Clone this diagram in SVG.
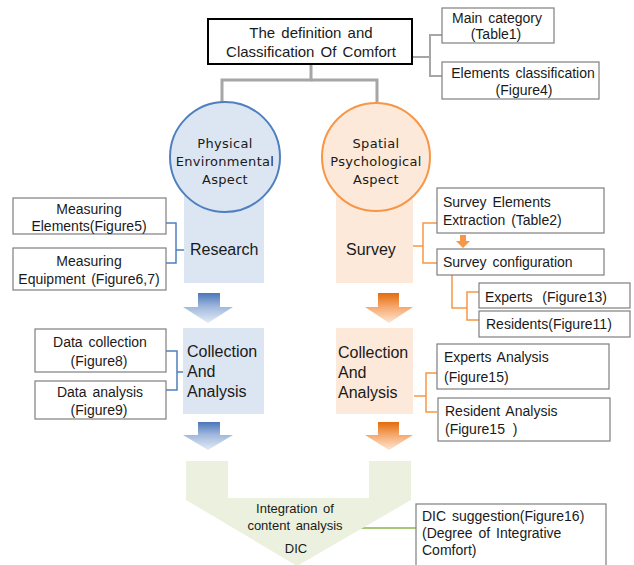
<svg xmlns="http://www.w3.org/2000/svg" width="634" height="565" viewBox="0 0 634 565">
<defs>
<style>
.box{fill:#fff;stroke:#7f7f7f;stroke-width:1.2}
.t{font-family:"Liberation Sans",Arial,sans-serif;font-size:14px;fill:#1a1a1a;word-spacing:2px}
.big{font-family:"Liberation Sans",Arial,sans-serif;font-size:16px;fill:#1a1a1a}
.circ{font-family:"DejaVu Sans",sans-serif;font-size:13px;fill:#1a1a1a;letter-spacing:0.3px}
.c{text-anchor:middle}
.gray{fill:none;stroke:#a6a6a6;stroke-width:3}
.gray2{fill:none;stroke:#a6a6a6;stroke-width:2}
.bl{fill:none;stroke:#4f7fbf;stroke-width:1.5}
.or{fill:none;stroke:#f79646;stroke-width:1.5}
</style>
<linearGradient id="gb" x1="0" y1="0" x2="0" y2="1">
<stop offset="0" stop-color="#4a76b8"/><stop offset="0.45" stop-color="#9fb7dc"/><stop offset="1" stop-color="#e3ebf6"/>
</linearGradient>
<linearGradient id="go" x1="0" y1="0" x2="0" y2="1">
<stop offset="0" stop-color="#e36c0a"/><stop offset="0.45" stop-color="#f5a66a"/><stop offset="1" stop-color="#fde6d4"/>
</linearGradient>
</defs>

<g id="connectors">
<polyline class="gray" points="311,64 311,80 222,80 222,102"/>
<polyline class="gray" points="311,80 377,80 377,102"/>
<polyline class="gray2" points="412,57 430,57"/>
<polyline class="gray2" points="442,35 430,35 430,76 442,76"/>
<polyline class="bl" points="166,223 176,223 176,263 166,263"/>
<line class="bl" x1="176" y1="250" x2="184" y2="250"/>
<polyline class="bl" points="166,351 177,351 177,390 166,390"/>
<line class="bl" x1="177" y1="372" x2="184" y2="372"/>
<polyline class="or" points="437,223 423,223 423,263 437,263"/>
<line class="or" x1="413" y1="246" x2="423" y2="246"/>
<polyline class="or" points="452,275 452,308 467,308"/>
<polyline class="or" points="479,292 467,292 467,320 479,320"/>
<polyline class="or" points="437,373 426,373 426,412 437,412"/>
<line class="or" x1="414" y1="396" x2="426" y2="396"/>
<path d="M460,235 h6 v6 h4 l-7,7 l-7,-7 h4 z" fill="#f79646"/>
<line x1="358" y1="528" x2="416" y2="528" stroke="#a9c77a" stroke-width="2"/>
</g>

<g id="top">
<rect x="208" y="19" width="204" height="45" fill="#fff" stroke="#000" stroke-width="2"/>
<text class="t c" x="311" y="38" style="font-size:15px">The definition and</text>
<text class="t c" x="311" y="57" style="font-size:15px">Classification Of Comfort</text>
</g>

<g id="main-category">
<rect class="box" x="442" y="8" width="112" height="35"/>
<text class="t c" x="497" y="23">Main category</text>
<text class="t c" x="496" y="39">(Table1)</text>
</g>
<g id="elements-classification">
<rect class="box" x="442" y="62" width="157" height="37"/>
<text class="t c" x="523" y="78">Elements classification</text>
<text class="t c" x="524" y="95">(Figure4)</text>
</g>

<g id="research">
<rect x="184" y="160" width="80" height="123" fill="#dce6f2"/>
<text class="big" x="190" y="255">Research</text>
</g>
<g id="physical">
<circle cx="225" cy="157" r="55" fill="#dce6f2" stroke="#4f7fbf" stroke-width="2"/>
<text class="circ c" x="225" y="148">Physical</text>
<text class="circ c" x="225" y="166">Environmental</text>
<text class="circ c" x="225" y="184">Aspect</text>
</g>

<g id="survey">
<rect x="336" y="160" width="77" height="123" fill="#fde9d9"/>
<text class="big" x="346" y="255">Survey</text>
</g>
<g id="spatial">
<circle cx="376" cy="157" r="54" fill="#fde9d9" stroke="#f79646" stroke-width="2"/>
<text class="circ c" x="376" y="148">Spatial</text>
<text class="circ c" x="376" y="166">Psychological</text>
<text class="circ c" x="376" y="184">Aspect</text>
</g>

<g id="measuring-elements">
<rect class="box" x="13" y="198" width="153" height="36"/>
<text class="t c" x="89" y="214">Measuring</text>
<text class="t c" x="89" y="231">Elements(Figure5)</text>
</g>
<g id="measuring-equipment">
<rect class="box" x="13" y="248" width="153" height="42"/>
<text class="t c" x="89" y="266">Measuring</text>
<text class="t c" x="89" y="284">Equipment (Figure6,7)</text>
</g>

<g id="survey-elements">
<rect class="box" x="437" y="188" width="167" height="45"/>
<text class="t" x="443" y="207">Survey Elements</text>
<text class="t" x="443" y="225">Extraction (Table2)</text>
</g>
<g id="survey-configuration">
<rect class="box" x="437" y="249" width="167" height="26"/>
<text class="t" x="443" y="267">Survey configuration</text>
</g>
<g id="experts">
<rect class="box" x="479" y="283" width="151" height="25"/>
<text class="t" x="485" y="302" style="word-spacing:6px">Experts (Figure13)</text>
</g>
<g id="residents">
<rect class="box" x="479" y="311" width="151" height="26"/>
<text class="t" x="486" y="329">Residents(Figure11)</text>
</g>

<g id="arrow-blue-1"><path d="M198,293 h22 v14 h13 l-25,16 l-25,-16 h15 z" fill="url(#gb)"/></g>
<g id="arrow-orange-1"><path d="M378,293 h21 v14 h14 l-24,16 l-24,-16 h13 z" fill="url(#go)"/></g>

<g id="collection-blue">
<rect x="183" y="328" width="81" height="86" fill="#dce6f2"/>
<text class="big" x="187" y="357">Collection</text>
<text class="big" x="187" y="377"> And</text>
<text class="big" x="187" y="397">Analysis</text>
</g>
<g id="collection-orange">
<rect x="336" y="328" width="77" height="86" fill="#fde9d9"/>
<text class="big" x="338" y="358">Collection</text>
<text class="big" x="338" y="378"> And</text>
<text class="big" x="338" y="398">Analysis</text>
</g>

<g id="data-collection">
<rect class="box" x="35" y="329" width="131" height="43"/>
<text class="t c" x="100" y="347">Data collection</text>
<text class="t c" x="99" y="366">(Figure8)</text>
</g>
<g id="data-analysis">
<rect class="box" x="35" y="381" width="131" height="38"/>
<text class="t c" x="100" y="397">Data analysis</text>
<text class="t c" x="99" y="415">(Figure9)</text>
</g>

<g id="experts-analysis">
<rect class="box" x="437" y="344" width="172" height="45"/>
<text class="t" x="444" y="362">Experts Analysis</text>
<text class="t" x="444" y="382">(Figure15)</text>
</g>
<g id="resident-analysis">
<rect class="box" x="438" y="398" width="172" height="43"/>
<text class="t" x="445" y="416">Resident Analysis</text>
<text class="t" x="445" y="434" style="word-spacing:4px">(Figure15 )</text>
</g>

<g id="arrow-blue-2"><path d="M198,422 h22 v13 h13 l-25,15 l-25,-15 h15 z" fill="url(#gb)"/></g>
<g id="arrow-orange-2"><path d="M378,422 h21 v13 h14 l-24,15 l-24,-15 h13 z" fill="url(#go)"/></g>

<g id="integration">
<path d="M186,461 H228 V498 H369 V461 H411 V500 L297,566 L186,500 Z" fill="#ebf1de"/>
<text class="t c" x="295" y="513" style="font-size:13px">Integration of</text>
<text class="t c" x="295" y="530" style="font-size:13px">content analysis</text>
<text class="t c" x="296" y="553" style="font-size:13px">DIC</text>
</g>

<g id="dic-suggestion">
<rect class="box" x="416" y="504" width="190" height="64"/>
<text class="t" x="422" y="521">DIC suggestion(Figure16)</text>
<text class="t" x="422" y="538">(Degree of Integrative</text>
<text class="t" x="422" y="555">Comfort)</text>
</g>
</svg>
